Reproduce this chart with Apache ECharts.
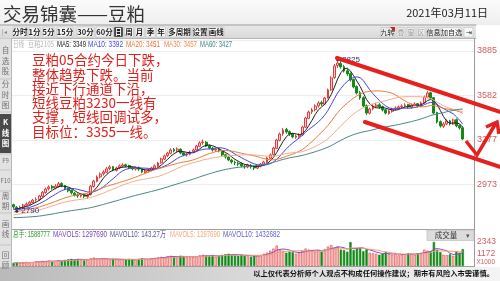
<!DOCTYPE html>
<html>
<head>
<meta charset="utf-8">
<script src="https://cdn.jsdelivr.net/npm/echarts@6/dist/echarts.min.js"></script>
<style>
html,body{margin:0;padding:0;background:#fff;}
#chart{width:500px;height:281px;}
</style>
</head>
<body>
<div id="chart"></div>
<script>
// ---------- DATA ----------
// daily candles: [open, close, low, high]
const ohlc = [
[2835,2820,2808,2842],[2818,2805,2790,2825],[2806,2818,2800,2828],[2816,2833,2810,2840],[2832,2840,2822,2851],
[2838,2852,2830,2860],[2850,2866,2845,2875],[2868,2872,2856,2885],[2870,2895,2862,2902],[2893,2920,2885,2928],
[2918,2942,2910,2952],[2945,2956,2932,2968],[2960,2950,2938,2970],[2948,2962,2940,2975],[2960,2978,2950,2990],
[2980,2965,2955,2988],[2966,2944,2936,2970],[2946,2930,2920,2952],[2934,2916,2905,2940],[2914,2902,2890,2922],
[2900,2895,2882,2912],[2893,2900,2884,2910],[2902,2893,2880,2908],[2890,2900,2876,2910],[2905,2962,2898,2970],
[2960,2996,2952,3005],[2995,3024,2988,3035],[3025,3044,3015,3055],[3046,3058,3034,3070],[3056,3080,3050,3092],
[3082,3093,3070,3105],[3095,3072,3064,3100],[3070,3086,3062,3095],[3088,3100,3078,3110],[3098,3106,3088,3118],
[3108,3100,3090,3115],[3102,3086,3078,3108],[3088,3080,3070,3094],[3078,3086,3068,3095],[3088,3078,3066,3096],
[3080,3058,3050,3085],[3056,3065,3046,3074],[3066,3072,3056,3082],[3070,3086,3062,3094],[3085,3100,3078,3110],
[3098,3120,3092,3128],[3122,3148,3115,3156],[3146,3168,3140,3178],[3170,3188,3160,3196],[3186,3209,3180,3220],
[3212,3202,3192,3222],[3200,3215,3194,3226],[3214,3188,3180,3220],[3190,3175,3166,3196],[3174,3181,3164,3190],
[3180,3195,3172,3204],[3196,3209,3188,3218],[3208,3236,3202,3244],[3234,3257,3228,3268],[3260,3264,3245,3280],
[3262,3236,3228,3270],[3238,3222,3212,3246],[3220,3209,3198,3230],[3208,3215,3196,3225],[3216,3202,3192,3222],
[3200,3175,3166,3206],[3176,3161,3150,3184],[3160,3141,3132,3166],[3140,3127,3115,3148],[3125,3120,3105,3136],
[3118,3113,3098,3130],[3115,3100,3090,3124],[3098,3093,3080,3110],[3092,3106,3084,3115],[3104,3093,3082,3112],
[3095,3086,3072,3102],[3085,3100,3078,3108],[3098,3113,3090,3120],[3112,3127,3104,3135],[3125,3154,3120,3162],
[3152,3175,3146,3185],[3178,3222,3170,3230],[3220,3277,3214,3285],[3275,3318,3268,3328],[3320,3345,3306,3358],
[3348,3332,3320,3360],[3334,3318,3305,3342],[3320,3298,3288,3326],[3296,3304,3285,3314],[3302,3311,3290,3322],
[3312,3366,3305,3374],[3364,3427,3358,3436],[3425,3468,3418,3478],[3470,3482,3455,3495],[3484,3509,3472,3520],
[3510,3530,3498,3542],[3532,3523,3510,3545],[3522,3564,3515,3572],[3566,3619,3560,3628],[3620,3701,3612,3712],
[3703,3783,3695,3796],[3785,3803,3770,3825],[3800,3776,3765,3815],[3778,3748,3738,3790],[3750,3728,3715,3762],
[3730,3687,3676,3738],[3690,3639,3630,3696],[3642,3598,3588,3650],[3600,3564,3552,3612],[3566,3509,3500,3575],
[3512,3461,3448,3520],[3460,3489,3452,3498],[3490,3509,3480,3520],[3506,3516,3494,3530],[3518,3503,3490,3528],
[3505,3482,3472,3512],[3484,3461,3452,3490],[3458,3475,3450,3484],[3473,3489,3464,3498],[3490,3496,3478,3506],
[3494,3503,3484,3512],[3505,3509,3492,3520],[3512,3516,3500,3528],[3518,3503,3494,3524],[3500,3516,3492,3526],
[3515,3523,3506,3534],[3525,3509,3498,3530],[3508,3530,3500,3540],[3532,3571,3526,3580],[3570,3598,3562,3610],
[3600,3564,3554,3606],[3566,3461,3452,3570],[3464,3400,3390,3470],[3402,3373,3362,3410],[3370,3387,3360,3398],
[3386,3407,3378,3418],[3408,3387,3376,3415],[3386,3414,3380,3422],[3416,3373,3364,3424],[3375,3359,3348,3384],
[3360,3284,3276,3368]
];
// closes before the first visible day (only used to warm up the moving averages)
const priorCloses = [
2790,2782,2775,2770,2768,2760,2755,2748,2745,2740,2738,2730,2725,2722,2718,2715,2710,2712,2708,2705,
2710,2702,2698,2700,2695,2690,2698,2705,2712,2720,
2715,2722,2718,2725,2730,2728,2722,2730,2735,2728,
2740,2748,2755,2760,2768,2772,2778,2785,2790,2800,
2805,2795,2790,2800,2808,2795,2790,2800,2815
];
// volume, x1000
const volumes = [
300,350,280,320,400,350,380,450,420,500,480,
520,450,480,560,500,600,650,700,620,680,600,550,640,
750,820,700,650,720,680,620,
700,650,600,580,620,700,650,600,680,750,700,650,720,800,850,
900,850,950,1000,900,850,1000,950,900,850,880,950,1050,
1100,1000,950,1050,900,1000,1100,1150,1200,1100,1050,1000,1100,1000,
950,900,1000,1050,1100,1200,1300,1500,1700,2000,1600,1500,1300,1400,1350,1200,1300,
1500,1700,1600,1500,1400,1550,1400,1650,1900,2050,1800,1900,
1600,1550,1400,2343,1550,1700,1800,1450,1600,
1300,1250,1200,1100,1200,1350,1150,1100,1200,1050,1100,1150,1250,1200,1100,1250,1300,1600,1500,1450,
2343,1600,1350,1100,1050,1150,1000,1450,1300,1650
];
const priceTicks = [2973, 3277, 3582, 3885];
const volTicks = [1172, 2343];
const maPeriods = [5, 10, 20, 30, 60];
const volMaPeriods = [5, 10];
const infoLabels = ['日线', '豆粕2105', 'MA5: 3349', 'MA10: 3392', 'MA20: 3451', 'MA30: 3457', 'MA60: 3427'];
const volLabels = ['总手: 1588777', 'MAVOL5: 1297690', 'MAVOL10: 143.27万', 'MAVOL5: 1297690', 'MAVOL10: 1432682'];
const titleText = '交易锦囊——豆粕';
const dateText = '2021年03月11日';
const noteLines = ['豆粕05合约今日下跌，', '整体趋势下跌。当前', '接近下行通道下沿，', '短线豆粕3230一线有', '支撑，短线回调试多，', '目标位：3355一线。'];
const toolbarLeft = ['分时','1分','5分','15分','30分','60分','日','周','月','季','年','多周期','设置','画线'];
const toolbarRight = ['九转','叠','窗','区','信息','加自选','⇥'];
const sideTabs = ['自选股','分时图','K线图','F9','F10','周期','画线','回顾'];
const disclaimer = '以上仅代表分析师个人观点不构成任何操作建议；期市有风险入市需谨慎。';

// ---------- BUILD ----------
const cats = ohlc.map((d, i) => 'D' + (i + 1)).concat(['', ' ', '  ']);
const closes = ohlc.map(d => d[1]);
const allCloses = priorCloses.concat(closes);
function priceMA(p) {
  const off = priorCloses.length;
  return closes.map((c, i) => {
    const j = i + off;
    if (j + 1 < p) return '-';
    let s = 0;
    for (let k = j - p + 1; k <= j; k++) s += allCloses[k];
    return +(s / p).toFixed(1);
  });
}
function volMA(p) {
  return volumes.map((v, i) => {
    const a = Math.max(0, i - p + 1);
    let s = 0;
    for (let k = a; k <= i; k++) s += volumes[k];
    return +(s / (i - a + 1)).toFixed(1);
  });
}
const maColors = ['#1e1e1e', '#4646dc', '#f07a3a', '#f4ae86', '#4a8585'];
const volMaColors = ['#8a4ac8', '#f3a070'];
const UP_FILL = '#fbd2d2', UP_LINE = '#e23c3c', DN = '#14891a';

const CJK = '"Noto Sans CJK SC","Noto Sans",sans-serif';
const NARROW = '"Liberation Sans Narrow","Liberation Sans",sans-serif';
const measureCtx = document.createElement('canvas').getContext('2d');
function fitScale(text, size, family, target) {
  measureCtx.font = size + 'px ' + family;
  const w = measureCtx.measureText(text).width;
  return w > 0 ? target / w : 1;
}

const G = [];
function T(x, y, text, size, color, extra, sx) {
  const el = {type: 'text', x: x, y: y, z: 50, silent: true,
    style: Object.assign({text: text, fontSize: size, fill: color, fontFamily: CJK, verticalAlign: 'middle', align: 'left'}, extra || {})};
  if (sx) el.scaleX = sx;
  G.push(el);
}
function R(x, y, w, h, fill, stroke, z) {
  G.push({type: 'rect', z: z || 1, silent: true, shape: {x: x, y: y, width: w, height: h},
    style: {fill: fill, stroke: stroke || null, lineWidth: stroke ? 0.7 : 0}});
}
function L(x1, y1, x2, y2, stroke, w, z) {
  G.push({type: 'line', z: z || 1, silent: true, shape: {x1: x1, y1: y1, x2: x2, y2: y2},
    style: {stroke: stroke, lineWidth: w, lineCap: 'round'}});
}

// header
R(0, 0, 500, 25, {type: 'linear', x: 0, y: 0, x2: 0, y2: 1, colorStops: [{offset: 0, color: '#fbfbfb'}, {offset: 1, color: '#eeeeee'}]}, null, 0);
T(3, 14, titleText, 18.5, '#333333');
T(488, 12.5, dateText, 11, '#222222', {align: 'right'});
// toolbar band
R(0, 25, 476, 13, {type: 'linear', x: 0, y: 0, x2: 0, y2: 1, colorStops: [{offset: 0, color: '#e9e9e9'}, {offset: 1, color: '#d9d9d9'}]}, null, 0);
L(0, 25, 476, 25, '#9c9c9c', 1, 1);
L(0, 38.5, 476, 38.5, '#b4b4b4', 1, 1);
T(2, 32, '|◂', 6, '#888888');
const tbX = [[13,27],[29,40],[43,54],[57,73],[77,94],[96,113],[114,123],[124.5,133.5],[135,144],[146,155],[156.5,165.5],[168,191],[193,207],[208.5,224]];
toolbarLeft.forEach((t, i) => {
  const sel = t === '日';
  R(tbX[i][0], 27, tbX[i][1] - tbX[i][0], 10, sel ? '#1e1e1e' : '#f6f6f6', '#c2c2c2', 2);
  T((tbX[i][0] + tbX[i][1]) / 2, 32.3, t, 7.5, sel ? '#ffffff' : '#1e1e1e', {align: 'center', fontWeight: 'bold'});
});
const trX = [[381,394],[397,405],[407,415],[417,425],[427,440],[442,461],[464,473]];
toolbarRight.forEach((t, i) => {
  R(trX[i][0], 27.5, trX[i][1] - trX[i][0], 9.5, i >= 5 ? '#f8f8f8' : '#ececec', '#c4c4c4', 2);
  T((trX[i][0] + trX[i][1]) / 2, 32.5, t, 7, i >= 1 && i <= 3 ? '#9a9a9a' : '#1e1e1e', {align: 'center'});
});
G.push({type: 'polygon', z: 5, silent: true, shape: {points: [[390, 27], [395, 27], [395, 32]]}, style: {fill: '#d81e1e'}});

// info row
const infoX = [[13,24],[28,54],[57,86],[88,123],[126,160],[164,197],[200,232]];
const infoC = ['#b4b4b4', '#b4b4b4', '#222222', '#4646dc', '#ec7436', '#ec8a52', '#3f8585'];
infoLabels.forEach((t, i) => {
  const fam = i < 2 ? CJK : NARROW;
  const size = i < 2 ? 7.5 : 8.5;
  T(infoX[i][0], 44.5, t, size, infoC[i], {fontFamily: fam}, fitScale(t, size, fam, infoX[i][1] - infoX[i][0]));
});

// left side bar
R(0, 38.5, 11, 229, '#e2e2e2', null, 0);
L(11.5, 38.5, 11.5, 267, '#b8b8b8', 1, 1);
const sideY = [61, 95, 133, 161, 181, 201, 229, 260];
const sideSep = [79, 112, 154, 170, 191, 213, 245];
sideSep.forEach(y => L(0, y, 11, y, '#c4c4c4', 1, 1));
R(0, 114, 11, 39, '#4a4a4a', null, 1);
sideTabs.forEach((t, i) => {
  const vertical = !/^F/.test(t);
  const txt = vertical ? t.split('').join('\n') : t;
  T(5.5, sideY[i], txt, vertical ? 7.5 : 6, i === 2 ? '#ffffff' : '#707070', {align: 'center', lineHeight: 10.5, fontWeight: i === 2 ? 'bold' : 'normal'});
});

// vertical right axis line across panes
L(474.5, 38.5, 474.5, 267, '#9a9a9a', 1, 1);
// volume pane header
const volX = [[13,50],[53,107],[110,166],[170,220],[223,280]];
const volC = ['#2f9a2f', '#7a45b5', '#55559a', '#f2a878', '#6060d0'];
const VOLFAM = NARROW + ',"Noto Sans CJK SC"';
volLabels.forEach((t, i) => T(volX[i][0], 234.5, t, 8.5, volC[i], {fontFamily: VOLFAM}, fitScale(t, 8.5, VOLFAM, volX[i][1] - volX[i][0])));
R(427, 230, 47, 10.5, '#dcdcdc', '#bdbdbd', 2);
T(446, 235.3, '成交量', 7.5, '#333333', {align: 'center'});
T(468, 235.3, '▾', 7, '#555555', {align: 'center'});
T(476.5, 262, 'X1000', 7.5, '#d45c5c', {fontFamily: NARROW}, 0.85);

// bottom shadow & disclaimer
R(0, 267, 500, 14, {type: 'linear', x: 0, y: 0, x2: 1, y2: 0, colorStops: [{offset: 0, color: '#b9b9b9'}, {offset: 0.45, color: '#d6d6d6'}, {offset: 1, color: '#f4f4f4'}]}, null, 0);
T(494, 273.5, disclaimer, 7.3, '#111111', {align: 'right', fontFamily: '"Noto Sans CJK SC",serif', fontWeight: 'bold'});

// red hand-drawn annotation
T(32, 53, noteLines.join('\n'), 13.5, '#e0201c', {verticalAlign: 'top', lineHeight: 14.3});
const RED = '#e6201e';
L(337, 58, 502, 112.5, RED, 4, 100);
L(365, 122, 502, 167.5, RED, 4, 100);
G.push({type: 'polyline', z: 100, silent: true, shape: {points: [[466, 141], [477, 155], [496, 123]]}, style: {stroke: RED, lineWidth: 3.5, fill: null, lineJoin: 'miter'}});
G.push({type: 'polyline', z: 100, silent: true, shape: {points: [[486, 127], [497, 122], [499, 134]]}, style: {stroke: RED, lineWidth: 3.5, fill: null}});

function nearestLabel(v, list, tol) {
  for (const t of list) if (Math.abs(t - v) <= tol) return String(t);
  return '';
}

const series = [{
  type: 'candlestick', name: 'K', xAxisIndex: 0, yAxisIndex: 0, data: ohlc, barWidth: '72%',
  itemStyle: {color: UP_FILL, color0: DN, borderColor: UP_LINE, borderColor0: DN, borderWidth: 1},
  markPoint: {
    symbol: 'circle', symbolSize: 3, itemStyle: {color: '#2c2c70'},
    label: {show: true, position: 'right', distance: 3, fontSize: 8, color: '#2c2c70', fontFamily: NARROW, formatter: p => Math.round(p.value)},
    data: [{type: 'max', valueDim: 'highest'}, {type: 'min', valueDim: 'lowest'}]
  }
}];
maPeriods.forEach((p, k) => series.push({
  type: 'line', name: 'MA' + p, xAxisIndex: 0, yAxisIndex: 0, data: priceMA(p), showSymbol: false, symbol: 'none',
  lineStyle: {width: 1, color: maColors[k]}, z: 3
}));
series.push({
  type: 'bar', name: 'VOL', xAxisIndex: 1, yAxisIndex: 1, barWidth: '72%',
  data: volumes.map((v, i) => {
    const up = ohlc[i][1] >= ohlc[i][0];
    return {value: v, itemStyle: up ? {color: UP_FILL, borderColor: UP_LINE, borderWidth: 0.6} : {color: DN, borderColor: DN, borderWidth: 0.6}};
  })
});
volMaPeriods.forEach((p, k) => series.push({
  type: 'line', name: 'MAVOL' + p, xAxisIndex: 1, yAxisIndex: 1, data: volMA(p), showSymbol: false, symbol: 'none',
  lineStyle: {width: 1, color: volMaColors[k]}, z: 3
}));

const option = {
  animation: false,
  backgroundColor: '#ffffff',
  grid: [
    {left: 12, right: 26, top: 40, height: 189},
    {left: 12, right: 26, top: 240, height: 26}
  ],
  xAxis: [
    {type: 'category', gridIndex: 0, data: cats, boundaryGap: true, axisLine: {show: true, lineStyle: {color: '#a0a0a0'}}, axisTick: {show: false}, axisLabel: {show: false}, splitLine: {show: false}},
    {type: 'category', gridIndex: 1, data: cats, boundaryGap: true, axisLine: {show: true, lineStyle: {color: '#a0a0a0'}}, axisTick: {show: false}, axisLabel: {show: false}, splitLine: {show: false}}
  ],
  yAxis: [
    {type: 'value', gridIndex: 0, position: 'right', min: 2669, max: 3960, interval: 304,
      axisLine: {show: false}, axisTick: {show: false},
      axisLabel: {color: '#d45c5c', fontSize: 9, margin: 3, fontFamily: NARROW, showMinLabel: false, showMaxLabel: false,
        formatter: v => nearestLabel(v, priceTicks, 3)},
      splitLine: {show: true, lineStyle: {color: '#eeeeee', width: 1}}},
    {type: 'value', gridIndex: 1, position: 'right', min: 0, max: 2538, interval: 1171.5,
      axisLine: {show: false}, axisTick: {show: false},
      axisLabel: {color: '#d45c5c', fontSize: 8.5, margin: 3, fontFamily: NARROW, showMinLabel: false, showMaxLabel: false,
        formatter: v => nearestLabel(v, volTicks, 2)},
      splitLine: {show: false}}
  ],
  series: series,
  graphic: {elements: G}
};
const chart = echarts.init(document.getElementById('chart'), null, {renderer: 'canvas'});
chart.setOption(option);
</script>
</body>
</html>
